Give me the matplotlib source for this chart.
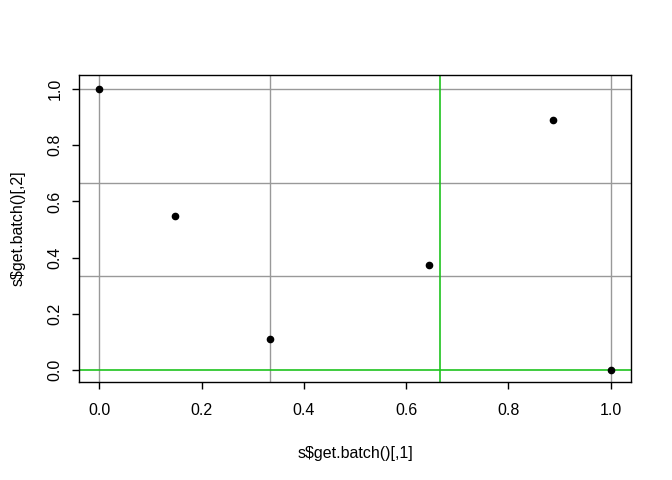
import matplotlib as mpl
mpl.use('Agg')
import matplotlib.pyplot as plt

# batch points
xs = [0.0, 0.148, 0.333, 0.645, 0.888, 1.0]
ys = [1.0, 0.549, 0.111, 0.375, 0.889, 0.0]

grey_v = [0.0, 1/3, 1.0]
grey_h = [1/3, 2/3, 1.0]
green_v = [2/3]
green_h = [0.0]

xticks = [0.0, 0.2, 0.4, 0.6, 0.8, 1.0]
yticks = [0.0, 0.2, 0.4, 0.6, 0.8, 1.0]

plt.rcParams['font.family'] = ['Liberation Sans', 'DejaVu Sans']

fig = plt.figure(figsize=(6.72, 4.8), dpi=100)
ax = fig.add_axes([79/672, 1-382/480, (631-79)/672, (382-75)/480])

for v in grey_v:
	ax.axvline(v, color='#999999', lw=1, zorder=1)
for h in grey_h:
	ax.axhline(h, color='#999999', lw=1, zorder=1)
for v in green_v:
	ax.axvline(v, color='#1ec31e', lw=1.2, zorder=2)
for h in green_h:
	ax.axhline(h, color='#1ec31e', lw=1.2, zorder=2)

ax.plot(xs, ys, 'o', color='black', ms=4.5, zorder=3)

ax.set_xlim(-0.04, 1.04)
ax.set_ylim(-0.043, 1.05)
ax.set_xticks(xticks)
ax.set_yticks(yticks)
ax.set_xticklabels(['%.1f' % t for t in xticks])
ax.set_yticklabels(['%.1f' % t for t in yticks], rotation=90, va='center')
ax.tick_params(direction='out', length=5, width=1, labelsize=11.5)
ax.tick_params(axis='x', pad=10)
ax.tick_params(axis='y', pad=7)
for s in ax.spines.values():
	s.set_linewidth(1)
ax.set_xlabel('s$get.batch()[,1]', fontsize=11.5, labelpad=20)
ax.set_ylabel('s$get.batch()[,2]', fontsize=11.5, labelpad=16)

fig.savefig('out.png', dpi=100)
